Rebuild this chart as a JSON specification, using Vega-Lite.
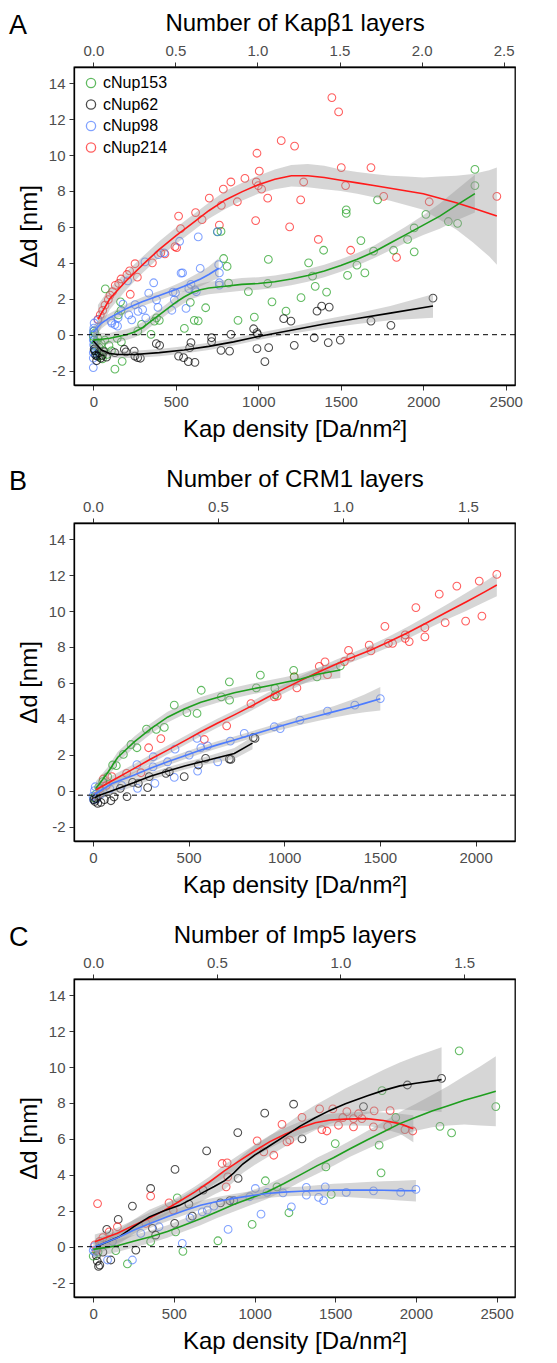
{
"$schema":"https://vega.github.io/schema/vega-lite/v6.json",
"autosize":{"type":"pad"},
"padding":{"left":8,"top":10,"right":5,"bottom":5},
"background":"white",
"config":{
 "font":"Liberation Sans",
 "view":{"stroke":"black","strokeWidth":1.3},
 "axis":{"grid":false,"domainColor":"black","domainWidth":1.3,"tickColor":"#333333","tickSize":5,"tickWidth":1,"labelColor":"#4D4D4D","labelFontSize":15,"labelFont":"Liberation Sans","labelPadding":4,"labelOverlap":false,"titleFontSize":24,"titleFontWeight":"normal","titleFont":"Liberation Sans","titleColor":"black"},
 "axisX":{"titlePadding":8},
 "axisY":{"titlePadding":7},
 "title":{"fontSize":27,"fontWeight":"normal","font":"Liberation Sans","anchor":"start","frame":"group","color":"black"},
 "legend":{"labelFontSize":16,"labelFont":"Liberation Sans","labelColor":"black","symbolSize":85,"symbolStrokeWidth":1.3,"rowPadding":5.5,"padding":0}
},
"datasets":{
"ptsA":[
{"s":"cNup214","x":28,"y":0.85},{"s":"cNup214","x":42,"y":1.1},{"s":"cNup214","x":57,"y":1.35},{"s":"cNup214","x":71,"y":1.65},{"s":"cNup214","x":91,"y":1.95},{"s":"cNup214","x":101,"y":2.2},{"s":"cNup214","x":117,"y":2.4},{"s":"cNup214","x":133,"y":2.75},{"s":"cNup214","x":154,"y":2.85},{"s":"cNup214","x":168,"y":3.1},{"s":"cNup214","x":204,"y":3.35},{"s":"cNup214","x":220,"y":3.55},{"s":"cNup214","x":224,"y":2.25},{"s":"cNup214","x":253,"y":3.95},{"s":"cNup214","x":267,"y":3.2},{"s":"cNup214","x":358,"y":4.0},{"s":"cNup214","x":409,"y":4.55},{"s":"cNup214","x":434,"y":4.5},{"s":"cNup214","x":495,"y":4.9},{"s":"cNup214","x":505,"y":4.85},{"s":"cNup214","x":517,"y":6.6},{"s":"cNup214","x":529,"y":5.9},{"s":"cNup214","x":620,"y":6.8},{"s":"cNup214","x":659,"y":6.4},{"s":"cNup214","x":703,"y":7.6},{"s":"cNup214","x":764,"y":6.1},{"s":"cNup214","x":776,"y":7.2},{"s":"cNup214","x":788,"y":8.1},{"s":"cNup214","x":834,"y":8.5},{"s":"cNup214","x":873,"y":7.4},{"s":"cNup214","x":919,"y":8.7},{"s":"cNup214","x":984,"y":6.35},{"s":"cNup214","x":988,"y":8.5},{"s":"cNup214","x":992,"y":10.1},{"s":"cNup214","x":1000,"y":8.3},{"s":"cNup214","x":1006,"y":9.1},{"s":"cNup214","x":1020,"y":8.1},{"s":"cNup214","x":1057,"y":7.6},{"s":"cNup214","x":1139,"y":10.8},{"s":"cNup214","x":1190,"y":6.0},{"s":"cNup214","x":1220,"y":10.5},{"s":"cNup214","x":1257,"y":7.5},{"s":"cNup214","x":1275,"y":8.5},{"s":"cNup214","x":1364,"y":5.3},{"s":"cNup214","x":1446,"y":13.2},{"s":"cNup214","x":1487,"y":12.4},{"s":"cNup214","x":1503,"y":9.3},{"s":"cNup214","x":1529,"y":8.3},{"s":"cNup214","x":1560,"y":4.7},{"s":"cNup214","x":1683,"y":9.3},{"s":"cNup214","x":1760,"y":7.7},{"s":"cNup214","x":1838,"y":4.3},{"s":"cNup214","x":2036,"y":7.4},{"s":"cNup214","x":2446,"y":7.7},
{"s":"cNup153","x":0,"y":-0.1},{"s":"cNup153","x":3,"y":0.2},{"s":"cNup153","x":5,"y":-0.3},{"s":"cNup153","x":8,"y":-0.6},{"s":"cNup153","x":10,"y":0.1},{"s":"cNup153","x":14,"y":-0.9},{"s":"cNup153","x":18,"y":-0.4},{"s":"cNup153","x":22,"y":-1.1},{"s":"cNup153","x":28,"y":-0.2},{"s":"cNup153","x":35,"y":-0.7},{"s":"cNup153","x":40,"y":-1.2},{"s":"cNup153","x":48,"y":-0.5},{"s":"cNup153","x":55,"y":-1.35},{"s":"cNup153","x":62,"y":-0.9},{"s":"cNup153","x":70,"y":-0.3},{"s":"cNup153","x":73,"y":2.55},{"s":"cNup153","x":85,"y":-1.1},{"s":"cNup153","x":95,"y":-0.6},{"s":"cNup153","x":110,"y":-0.9},{"s":"cNup153","x":131,"y":-1.92},{"s":"cNup153","x":145,"y":-0.2},{"s":"cNup153","x":152,"y":1.1},{"s":"cNup153","x":165,"y":1.83},{"s":"cNup153","x":168,"y":1.35},{"s":"cNup153","x":170,"y":-0.4},{"s":"cNup153","x":175,"y":-1.48},{"s":"cNup153","x":270,"y":0.2},{"s":"cNup153","x":293,"y":0.58},{"s":"cNup153","x":350,"y":0.02},{"s":"cNup153","x":370,"y":0.76},{"s":"cNup153","x":383,"y":0.94},{"s":"cNup153","x":400,"y":0.8},{"s":"cNup153","x":552,"y":0.35},{"s":"cNup153","x":588,"y":1.8},{"s":"cNup153","x":612,"y":0.8},{"s":"cNup153","x":636,"y":0.77},{"s":"cNup153","x":681,"y":1.5},{"s":"cNup153","x":752,"y":5.72},{"s":"cNup153","x":774,"y":5.75},{"s":"cNup153","x":790,"y":4.24},{"s":"cNup153","x":811,"y":3.8},{"s":"cNup153","x":820,"y":2.87},{"s":"cNup153","x":877,"y":0.8},{"s":"cNup153","x":940,"y":2.4},{"s":"cNup153","x":976,"y":0.98},{"s":"cNup153","x":1057,"y":2.85},{"s":"cNup153","x":1061,"y":4.19},{"s":"cNup153","x":1083,"y":1.83},{"s":"cNup153","x":1168,"y":1.31},{"s":"cNup153","x":1259,"y":2.06},{"s":"cNup153","x":1305,"y":4.0},{"s":"cNup153","x":1329,"y":3.26},{"s":"cNup153","x":1345,"y":2.69},{"s":"cNup153","x":1396,"y":4.7},{"s":"cNup153","x":1414,"y":2.37},{"s":"cNup153","x":1533,"y":6.95},{"s":"cNup153","x":1533,"y":6.75},{"s":"cNup153","x":1541,"y":3.3},{"s":"cNup153","x":1598,"y":3.87},{"s":"cNup153","x":1622,"y":5.24},{"s":"cNup153","x":1646,"y":3.44},{"s":"cNup153","x":1699,"y":4.65},{"s":"cNup153","x":1723,"y":7.5},{"s":"cNup153","x":1820,"y":4.7},{"s":"cNup153","x":1905,"y":5.3},{"s":"cNup153","x":1945,"y":5.94},{"s":"cNup153","x":1945,"y":4.61},{"s":"cNup153","x":2016,"y":6.7},{"s":"cNup153","x":2152,"y":6.3},{"s":"cNup153","x":2208,"y":6.2},{"s":"cNup153","x":2313,"y":9.2},{"s":"cNup153","x":2313,"y":8.3},
{"s":"cNup98","x":0,"y":-1.83},{"s":"cNup98","x":0,"y":-1.3},{"s":"cNup98","x":0,"y":-1.0},{"s":"cNup98","x":2,"y":-0.56},{"s":"cNup98","x":0,"y":-0.3},{"s":"cNup98","x":0,"y":0.0},{"s":"cNup98","x":2,"y":0.2},{"s":"cNup98","x":3,"y":0.37},{"s":"cNup98","x":5,"y":0.65},{"s":"cNup98","x":8,"y":-0.8},{"s":"cNup98","x":10,"y":-1.1},{"s":"cNup98","x":28,"y":0.83},{"s":"cNup98","x":107,"y":0.76},{"s":"cNup98","x":112,"y":0.65},{"s":"cNup98","x":131,"y":0.56},{"s":"cNup98","x":147,"y":0.48},{"s":"cNup98","x":150,"y":0.93},{"s":"cNup98","x":180,"y":1.7},{"s":"cNup98","x":208,"y":3.0},{"s":"cNup98","x":215,"y":1.1},{"s":"cNup98","x":233,"y":0.83},{"s":"cNup98","x":253,"y":1.67},{"s":"cNup98","x":271,"y":1.3},{"s":"cNup98","x":299,"y":1.39},{"s":"cNup98","x":313,"y":4.05},{"s":"cNup98","x":318,"y":0.93},{"s":"cNup98","x":336,"y":2.31},{"s":"cNup98","x":366,"y":2.89},{"s":"cNup98","x":383,"y":1.94},{"s":"cNup98","x":392,"y":1.52},{"s":"cNup98","x":394,"y":4.46},{"s":"cNup98","x":429,"y":4.55},{"s":"cNup98","x":476,"y":1.36},{"s":"cNup98","x":483,"y":2.37},{"s":"cNup98","x":491,"y":1.94},{"s":"cNup98","x":498,"y":2.33},{"s":"cNup98","x":523,"y":5.2},{"s":"cNup98","x":532,"y":3.43},{"s":"cNup98","x":541,"y":3.44},{"s":"cNup98","x":562,"y":1.46},{"s":"cNup98","x":579,"y":2.57},{"s":"cNup98","x":592,"y":2.8},{"s":"cNup98","x":616,"y":2.5},{"s":"cNup98","x":624,"y":2.39},{"s":"cNup98","x":636,"y":5.44},{"s":"cNup98","x":648,"y":3.69},{"s":"cNup98","x":753,"y":5.74},{"s":"cNup98","x":760,"y":3.9},{"s":"cNup98","x":764,"y":3.44},{"s":"cNup98","x":764,"y":2.89},{"s":"cNup98","x":764,"y":2.76},
{"s":"cNup62","x":5,"y":-0.8},{"s":"cNup62","x":8,"y":-0.9},{"s":"cNup62","x":15,"y":-1.15},{"s":"cNup62","x":20,"y":-1.45},{"s":"cNup62","x":25,"y":-1.2},{"s":"cNup62","x":35,"y":-1.0},{"s":"cNup62","x":45,"y":-1.3},{"s":"cNup62","x":55,"y":-1.15},{"s":"cNup62","x":65,"y":-0.95},{"s":"cNup62","x":80,"y":-1.25},{"s":"cNup62","x":130,"y":-1.0},{"s":"cNup62","x":188,"y":-0.81},{"s":"cNup62","x":198,"y":-0.96},{"s":"cNup62","x":248,"y":-0.91},{"s":"cNup62","x":252,"y":-1.19},{"s":"cNup62","x":269,"y":-1.28},{"s":"cNup62","x":285,"y":-1.31},{"s":"cNup62","x":382,"y":-0.5},{"s":"cNup62","x":402,"y":-0.59},{"s":"cNup62","x":517,"y":-1.19},{"s":"cNup62","x":547,"y":-1.28},{"s":"cNup62","x":576,"y":-1.5},{"s":"cNup62","x":584,"y":-0.72},{"s":"cNup62","x":592,"y":-0.44},{"s":"cNup62","x":616,"y":-1.54},{"s":"cNup62","x":717,"y":-0.17},{"s":"cNup62","x":717,"y":-0.39},{"s":"cNup62","x":774,"y":-0.87},{"s":"cNup62","x":826,"y":-0.91},{"s":"cNup62","x":834,"y":0.02},{"s":"cNup62","x":972,"y":0.33},{"s":"cNup62","x":992,"y":0.11},{"s":"cNup62","x":996,"y":0.02},{"s":"cNup62","x":992,"y":-0.78},{"s":"cNup62","x":1040,"y":-1.5},{"s":"cNup62","x":1063,"y":-0.72},{"s":"cNup62","x":1154,"y":0.89},{"s":"cNup62","x":1198,"y":0.76},{"s":"cNup62","x":1218,"y":-0.59},{"s":"cNup62","x":1339,"y":-0.17},{"s":"cNup62","x":1356,"y":1.31},{"s":"cNup62","x":1384,"y":1.59},{"s":"cNup62","x":1430,"y":1.54},{"s":"cNup62","x":1424,"y":-0.44},{"s":"cNup62","x":1497,"y":-0.3},{"s":"cNup62","x":1683,"y":0.76},{"s":"cNup62","x":1804,"y":0.52},{"s":"cNup62","x":2059,"y":2.04}
],
"fitA":[
{"s":"cNup214","x":28,"y":0.85,"lo":0.05,"hi":1.65},{"s":"cNup214","x":100,"y":2.0,"lo":1.4,"hi":2.6},{"s":"cNup214","x":200,"y":3.0,"lo":2.5,"hi":3.5},{"s":"cNup214","x":300,"y":3.9,"lo":3.45,"hi":4.35},{"s":"cNup214","x":400,"y":4.75,"lo":4.3,"hi":5.2},{"s":"cNup214","x":500,"y":5.5,"lo":5.05,"hi":5.95},{"s":"cNup214","x":600,"y":6.2,"lo":5.75,"hi":6.65},{"s":"cNup214","x":700,"y":6.9,"lo":6.45,"hi":7.35},{"s":"cNup214","x":800,"y":7.5,"lo":7.0,"hi":8.0},{"s":"cNup214","x":900,"y":7.95,"lo":7.45,"hi":8.45},{"s":"cNup214","x":1000,"y":8.35,"lo":7.85,"hi":8.85},{"s":"cNup214","x":1100,"y":8.65,"lo":8.1,"hi":9.2},{"s":"cNup214","x":1200,"y":8.85,"lo":8.25,"hi":9.45},{"s":"cNup214","x":1300,"y":8.85,"lo":8.2,"hi":9.5},{"s":"cNup214","x":1400,"y":8.75,"lo":8.1,"hi":9.4},{"s":"cNup214","x":1500,"y":8.6,"lo":8.0,"hi":9.2},{"s":"cNup214","x":1600,"y":8.45,"lo":7.85,"hi":9.05},{"s":"cNup214","x":1700,"y":8.3,"lo":7.65,"hi":8.95},{"s":"cNup214","x":1800,"y":8.15,"lo":7.45,"hi":8.85},{"s":"cNup214","x":1900,"y":8.0,"lo":7.2,"hi":8.8},{"s":"cNup214","x":2000,"y":7.85,"lo":6.95,"hi":8.75},{"s":"cNup214","x":2100,"y":7.6,"lo":6.4,"hi":8.8},{"s":"cNup214","x":2200,"y":7.35,"lo":5.85,"hi":8.85},{"s":"cNup214","x":2300,"y":7.05,"lo":5.15,"hi":8.95},{"s":"cNup214","x":2400,"y":6.75,"lo":4.35,"hi":9.15},{"s":"cNup214","x":2446,"y":6.6,"lo":3.9,"hi":9.3},
{"s":"cNup153","x":0,"y":-0.3,"lo":-0.8,"hi":0.2},{"s":"cNup153","x":50,"y":-0.25,"lo":-0.6,"hi":0.1},{"s":"cNup153","x":100,"y":-0.2,"lo":-0.5,"hi":0.1},{"s":"cNup153","x":150,"y":-0.1,"lo":-0.4,"hi":0.2},{"s":"cNup153","x":200,"y":0.0,"lo":-0.3,"hi":0.3},{"s":"cNup153","x":250,"y":0.15,"lo":-0.15,"hi":0.45},{"s":"cNup153","x":300,"y":0.4,"lo":0.1,"hi":0.7},{"s":"cNup153","x":350,"y":0.75,"lo":0.45,"hi":1.05},{"s":"cNup153","x":400,"y":1.1,"lo":0.8,"hi":1.4},{"s":"cNup153","x":450,"y":1.45,"lo":1.15,"hi":1.75},{"s":"cNup153","x":500,"y":1.8,"lo":1.45,"hi":2.15},{"s":"cNup153","x":550,"y":2.1,"lo":1.75,"hi":2.45},{"s":"cNup153","x":600,"y":2.35,"lo":2.0,"hi":2.7},{"s":"cNup153","x":650,"y":2.5,"lo":2.15,"hi":2.85},{"s":"cNup153","x":700,"y":2.6,"lo":2.25,"hi":2.95},{"s":"cNup153","x":800,"y":2.7,"lo":2.35,"hi":3.05},{"s":"cNup153","x":900,"y":2.8,"lo":2.45,"hi":3.15},{"s":"cNup153","x":1000,"y":2.85,"lo":2.5,"hi":3.2},{"s":"cNup153","x":1100,"y":2.95,"lo":2.6,"hi":3.3},{"s":"cNup153","x":1200,"y":3.1,"lo":2.75,"hi":3.45},{"s":"cNup153","x":1300,"y":3.3,"lo":2.95,"hi":3.65},{"s":"cNup153","x":1400,"y":3.55,"lo":3.2,"hi":3.9},{"s":"cNup153","x":1500,"y":3.85,"lo":3.5,"hi":4.2},{"s":"cNup153","x":1600,"y":4.2,"lo":3.85,"hi":4.55},{"s":"cNup153","x":1700,"y":4.6,"lo":4.25,"hi":4.95},{"s":"cNup153","x":1800,"y":5.1,"lo":4.7,"hi":5.5},{"s":"cNup153","x":1900,"y":5.6,"lo":5.15,"hi":6.05},{"s":"cNup153","x":2000,"y":6.1,"lo":5.55,"hi":6.65},{"s":"cNup153","x":2100,"y":6.6,"lo":5.9,"hi":7.3},{"s":"cNup153","x":2200,"y":7.2,"lo":6.35,"hi":8.05},{"s":"cNup153","x":2313,"y":7.85,"lo":6.8,"hi":8.9},
{"s":"cNup98","x":0,"y":0.15,"lo":-0.2,"hi":0.5},{"s":"cNup98","x":50,"y":0.65,"lo":0.35,"hi":0.95},{"s":"cNup98","x":100,"y":0.95,"lo":0.7,"hi":1.2},{"s":"cNup98","x":150,"y":1.2,"lo":0.95,"hi":1.45},{"s":"cNup98","x":200,"y":1.45,"lo":1.2,"hi":1.7},{"s":"cNup98","x":250,"y":1.65,"lo":1.4,"hi":1.9},{"s":"cNup98","x":300,"y":1.85,"lo":1.6,"hi":2.1},{"s":"cNup98","x":350,"y":2.02,"lo":1.77,"hi":2.27},{"s":"cNup98","x":400,"y":2.18,"lo":1.93,"hi":2.43},{"s":"cNup98","x":450,"y":2.35,"lo":2.1,"hi":2.6},{"s":"cNup98","x":500,"y":2.52,"lo":2.25,"hi":2.79},{"s":"cNup98","x":550,"y":2.7,"lo":2.4,"hi":3.0},{"s":"cNup98","x":600,"y":2.9,"lo":2.55,"hi":3.25},{"s":"cNup98","x":650,"y":3.1,"lo":2.7,"hi":3.5},{"s":"cNup98","x":700,"y":3.35,"lo":2.9,"hi":3.8},{"s":"cNup98","x":760,"y":3.7,"lo":3.15,"hi":4.25},
{"s":"cNup62","x":0,"y":-0.35,"lo":-0.65,"hi":-0.05},{"s":"cNup62","x":25,"y":-0.6,"lo":-0.85,"hi":-0.35},{"s":"cNup62","x":50,"y":-0.85,"lo":-1.1,"hi":-0.6},{"s":"cNup62","x":100,"y":-1.05,"lo":-1.25,"hi":-0.85},{"s":"cNup62","x":150,"y":-1.1,"lo":-1.3,"hi":-0.9},{"s":"cNup62","x":250,"y":-1.1,"lo":-1.3,"hi":-0.9},{"s":"cNup62","x":400,"y":-1.0,"lo":-1.2,"hi":-0.8},{"s":"cNup62","x":550,"y":-0.85,"lo":-1.05,"hi":-0.65},{"s":"cNup62","x":700,"y":-0.65,"lo":-0.85,"hi":-0.45},{"s":"cNup62","x":850,"y":-0.4,"lo":-0.6,"hi":-0.2},{"s":"cNup62","x":1000,"y":-0.1,"lo":-0.3,"hi":0.1},{"s":"cNup62","x":1200,"y":0.25,"lo":0.05,"hi":0.45},{"s":"cNup62","x":1400,"y":0.6,"lo":0.35,"hi":0.85},{"s":"cNup62","x":1600,"y":0.9,"lo":0.6,"hi":1.2},{"s":"cNup62","x":1800,"y":1.2,"lo":0.8,"hi":1.6},{"s":"cNup62","x":2059,"y":1.6,"lo":0.95,"hi":2.25}
],
"ptsB":[
{"s":"cNup214","x":20,"y":-0.3},{"s":"cNup214","x":35,"y":0.1},{"s":"cNup214","x":54,"y":0.65},{"s":"cNup214","x":70,"y":0.3},{"s":"cNup214","x":99,"y":0.78},{"s":"cNup214","x":176,"y":0.96},{"s":"cNup214","x":251,"y":1.0},{"s":"cNup214","x":291,"y":2.39},{"s":"cNup214","x":355,"y":2.9},{"s":"cNup214","x":582,"y":2.85},{"s":"cNup214","x":699,"y":3.61},{"s":"cNup214","x":826,"y":4.85},{"s":"cNup214","x":948,"y":5.22},{"s":"cNup214","x":963,"y":5.26},{"s":"cNup214","x":1052,"y":6.33},{"s":"cNup214","x":1066,"y":5.72},{"s":"cNup214","x":1183,"y":6.92},{"s":"cNup214","x":1213,"y":7.17},{"s":"cNup214","x":1226,"y":6.46},{"s":"cNup214","x":1314,"y":7.19},{"s":"cNup214","x":1336,"y":7.81},{"s":"cNup214","x":1348,"y":7.43},{"s":"cNup214","x":1444,"y":8.1},{"s":"cNup214","x":1453,"y":7.78},{"s":"cNup214","x":1526,"y":9.15},{"s":"cNup214","x":1544,"y":8.2},{"s":"cNup214","x":1566,"y":8.2},{"s":"cNup214","x":1632,"y":8.67},{"s":"cNup214","x":1632,"y":8.48},{"s":"cNup214","x":1653,"y":8.3},{"s":"cNup214","x":1688,"y":10.19},{"s":"cNup214","x":1735,"y":9.07},{"s":"cNup214","x":1735,"y":8.56},{"s":"cNup214","x":1810,"y":10.94},{"s":"cNup214","x":1841,"y":9.35},{"s":"cNup214","x":1902,"y":11.39},{"s":"cNup214","x":1948,"y":9.44},{"s":"cNup214","x":2019,"y":11.67},{"s":"cNup214","x":2033,"y":9.72},{"s":"cNup214","x":2111,"y":12.04},
{"s":"cNup153","x":5,"y":-0.4},{"s":"cNup153","x":15,"y":-0.2},{"s":"cNup153","x":30,"y":0.2},{"s":"cNup153","x":51,"y":0.5},{"s":"cNup153","x":77,"y":0.78},{"s":"cNup153","x":103,"y":1.43},{"s":"cNup153","x":122,"y":1.39},{"s":"cNup153","x":159,"y":2.02},{"s":"cNup153","x":199,"y":2.57},{"s":"cNup153","x":230,"y":2.39},{"s":"cNup153","x":280,"y":3.43},{"s":"cNup153","x":331,"y":3.41},{"s":"cNup153","x":373,"y":3.52},{"s":"cNup153","x":425,"y":4.76},{"s":"cNup153","x":491,"y":4.35},{"s":"cNup153","x":544,"y":4.3},{"s":"cNup153","x":566,"y":5.59},{"s":"cNup153","x":671,"y":5.22},{"s":"cNup153","x":713,"y":6.06},{"s":"cNup153","x":714,"y":5.04},{"s":"cNup153","x":854,"y":5.72},{"s":"cNup153","x":875,"y":6.43},{"s":"cNup153","x":951,"y":5.69},{"s":"cNup153","x":953,"y":5.35},{"s":"cNup153","x":1049,"y":6.7},{"s":"cNup153","x":1052,"y":6.33},{"s":"cNup153","x":1171,"y":6.33},{"s":"cNup153","x":1293,"y":6.95},
{"s":"cNup98","x":0,"y":-0.3},{"s":"cNup98","x":3,"y":-0.5},{"s":"cNup98","x":8,"y":0.0},{"s":"cNup98","x":12,"y":0.22},{"s":"cNup98","x":20,"y":-0.45},{"s":"cNup98","x":40,"y":-0.2},{"s":"cNup98","x":89,"y":0.1},{"s":"cNup98","x":150,"y":0.3},{"s":"cNup98","x":230,"y":1.45},{"s":"cNup98","x":233,"y":0.13},{"s":"cNup98","x":314,"y":1.33},{"s":"cNup98","x":315,"y":1.89},{"s":"cNup98","x":324,"y":0.41},{"s":"cNup98","x":390,"y":1.61},{"s":"cNup98","x":425,"y":0.74},{"s":"cNup98","x":429,"y":2.31},{"s":"cNup98","x":503,"y":1.98},{"s":"cNup98","x":544,"y":2.91},{"s":"cNup98","x":547,"y":1.09},{"s":"cNup98","x":564,"y":2.39},{"s":"cNup98","x":599,"y":2.5},{"s":"cNup98","x":652,"y":1.61},{"s":"cNup98","x":718,"y":2.76},{"s":"cNup98","x":791,"y":3.19},{"s":"cNup98","x":948,"y":3.56},{"s":"cNup98","x":979,"y":3.46},{"s":"cNup98","x":1082,"y":3.93},{"s":"cNup98","x":1226,"y":4.43},{"s":"cNup98","x":1369,"y":4.76},{"s":"cNup98","x":1502,"y":5.13},
{"s":"cNup62","x":5,"y":-0.5},{"s":"cNup62","x":10,"y":-0.6},{"s":"cNup62","x":16,"y":-0.43},{"s":"cNup62","x":25,"y":-0.7},{"s":"cNup62","x":42,"y":-0.65},{"s":"cNup62","x":60,"y":-0.5},{"s":"cNup62","x":94,"y":-0.56},{"s":"cNup62","x":110,"y":-0.35},{"s":"cNup62","x":143,"y":0.13},{"s":"cNup62","x":178,"y":-0.33},{"s":"cNup62","x":207,"y":0.46},{"s":"cNup62","x":237,"y":0.41},{"s":"cNup62","x":286,"y":0.17},{"s":"cNup62","x":294,"y":0.78},{"s":"cNup62","x":382,"y":0.96},{"s":"cNup62","x":399,"y":1.06},{"s":"cNup62","x":477,"y":0.78},{"s":"cNup62","x":551,"y":1.43},{"s":"cNup62","x":589,"y":1.8},{"s":"cNup62","x":713,"y":1.76},{"s":"cNup62","x":721,"y":1.74},{"s":"cNup62","x":838,"y":2.96},{"s":"cNup62","x":847,"y":2.91}
],
"fitB":[
{"s":"cNup214","x":16,"y":0.05,"lo":-0.3,"hi":0.4},{"s":"cNup214","x":100,"y":0.55,"lo":0.25,"hi":0.85},{"s":"cNup214","x":216,"y":1.24,"lo":0.99,"hi":1.49},{"s":"cNup214","x":300,"y":1.75,"lo":1.5,"hi":2.0},{"s":"cNup214","x":390,"y":2.26,"lo":2.01,"hi":2.51},{"s":"cNup214","x":500,"y":2.9,"lo":2.65,"hi":3.15},{"s":"cNup214","x":564,"y":3.28,"lo":3.03,"hi":3.53},{"s":"cNup214","x":650,"y":3.75,"lo":3.5,"hi":4.0},{"s":"cNup214","x":739,"y":4.22,"lo":3.97,"hi":4.47},{"s":"cNup214","x":830,"y":4.72,"lo":4.47,"hi":4.97},{"s":"cNup214","x":913,"y":5.2,"lo":4.95,"hi":5.45},{"s":"cNup214","x":1000,"y":5.68,"lo":5.43,"hi":5.93},{"s":"cNup214","x":1087,"y":6.14,"lo":5.89,"hi":6.39},{"s":"cNup214","x":1174,"y":6.58,"lo":6.33,"hi":6.83},{"s":"cNup214","x":1261,"y":7.0,"lo":6.75,"hi":7.25},{"s":"cNup214","x":1348,"y":7.38,"lo":7.13,"hi":7.63},{"s":"cNup214","x":1450,"y":7.82,"lo":7.55,"hi":8.09},{"s":"cNup214","x":1550,"y":8.3,"lo":8.0,"hi":8.6},{"s":"cNup214","x":1650,"y":8.82,"lo":8.49,"hi":9.15},{"s":"cNup214","x":1750,"y":9.38,"lo":9.01,"hi":9.75},{"s":"cNup214","x":1850,"y":9.95,"lo":9.53,"hi":10.37},{"s":"cNup214","x":1950,"y":10.5,"lo":10.0,"hi":11.0},{"s":"cNup214","x":2050,"y":11.08,"lo":10.51,"hi":11.65},{"s":"cNup214","x":2111,"y":11.45,"lo":10.82,"hi":12.08},
{"s":"cNup153","x":16,"y":0.13,"lo":-0.27,"hi":0.53},{"s":"cNup153","x":77,"y":1.0,"lo":0.7,"hi":1.3},{"s":"cNup153","x":129,"y":1.85,"lo":1.55,"hi":2.15},{"s":"cNup153","x":216,"y":2.72,"lo":2.42,"hi":3.02},{"s":"cNup153","x":303,"y":3.45,"lo":3.15,"hi":3.75},{"s":"cNup153","x":390,"y":4.09,"lo":3.79,"hi":4.39},{"s":"cNup153","x":477,"y":4.55,"lo":4.25,"hi":4.85},{"s":"cNup153","x":564,"y":4.92,"lo":4.62,"hi":5.22},{"s":"cNup153","x":650,"y":5.19,"lo":4.89,"hi":5.49},{"s":"cNup153","x":739,"y":5.45,"lo":5.15,"hi":5.75},{"s":"cNup153","x":826,"y":5.65,"lo":5.35,"hi":5.95},{"s":"cNup153","x":913,"y":5.83,"lo":5.53,"hi":6.13},{"s":"cNup153","x":1000,"y":6.02,"lo":5.72,"hi":6.32},{"s":"cNup153","x":1087,"y":6.22,"lo":5.92,"hi":6.52},{"s":"cNup153","x":1174,"y":6.48,"lo":6.13,"hi":6.83},{"s":"cNup153","x":1293,"y":6.72,"lo":6.27,"hi":7.17},
{"s":"cNup98","x":10,"y":-0.2,"lo":-0.5,"hi":0.1},{"s":"cNup98","x":100,"y":0.4,"lo":0.2,"hi":0.6},{"s":"cNup98","x":216,"y":0.87,"lo":0.67,"hi":1.07},{"s":"cNup98","x":300,"y":1.25,"lo":1.05,"hi":1.45},{"s":"cNup98","x":390,"y":1.61,"lo":1.41,"hi":1.81},{"s":"cNup98","x":480,"y":1.95,"lo":1.75,"hi":2.15},{"s":"cNup98","x":564,"y":2.26,"lo":2.06,"hi":2.46},{"s":"cNup98","x":650,"y":2.55,"lo":2.35,"hi":2.75},{"s":"cNup98","x":739,"y":2.82,"lo":2.62,"hi":3.02},{"s":"cNup98","x":826,"y":3.1,"lo":2.9,"hi":3.3},{"s":"cNup98","x":913,"y":3.38,"lo":3.18,"hi":3.58},{"s":"cNup98","x":1000,"y":3.66,"lo":3.44,"hi":3.88},{"s":"cNup98","x":1087,"y":3.92,"lo":3.67,"hi":4.17},{"s":"cNup98","x":1174,"y":4.16,"lo":3.88,"hi":4.44},{"s":"cNup98","x":1261,"y":4.4,"lo":4.08,"hi":4.72},{"s":"cNup98","x":1350,"y":4.65,"lo":4.25,"hi":5.05},{"s":"cNup98","x":1420,"y":4.86,"lo":4.36,"hi":5.36},{"s":"cNup98","x":1502,"y":5.12,"lo":4.47,"hi":5.77},
{"s":"cNup62","x":10,"y":-0.4,"lo":-0.65,"hi":-0.15},{"s":"cNup62","x":24,"y":-0.3,"lo":-0.5,"hi":-0.1},{"s":"cNup62","x":100,"y":0.0,"lo":-0.2,"hi":0.2},{"s":"cNup62","x":216,"y":0.45,"lo":0.25,"hi":0.65},{"s":"cNup62","x":300,"y":0.8,"lo":0.6,"hi":1.0},{"s":"cNup62","x":390,"y":1.1,"lo":0.9,"hi":1.3},{"s":"cNup62","x":480,"y":1.38,"lo":1.18,"hi":1.58},{"s":"cNup62","x":564,"y":1.6,"lo":1.4,"hi":1.8},{"s":"cNup62","x":650,"y":1.83,"lo":1.58,"hi":2.08},{"s":"cNup62","x":739,"y":2.07,"lo":1.77,"hi":2.37},{"s":"cNup62","x":834,"y":2.65,"lo":2.3,"hi":3.0}
],
"ptsC":[
{"s":"cNup62","x":20,"y":-0.5},{"s":"cNup62","x":25,"y":-0.8},{"s":"cNup62","x":33,"y":-1.1},{"s":"cNup62","x":41,"y":-1.02},{"s":"cNup62","x":60,"y":-0.3},{"s":"cNup62","x":84,"y":0.96},{"s":"cNup62","x":109,"y":-0.74},{"s":"cNup62","x":155,"y":1.52},{"s":"cNup62","x":243,"y":2.26},{"s":"cNup62","x":264,"y":-0.19},{"s":"cNup62","x":356,"y":3.24},{"s":"cNup62","x":367,"y":1.02},{"s":"cNup62","x":387,"y":0.65},{"s":"cNup62","x":505,"y":1.3},{"s":"cNup62","x":507,"y":4.3},{"s":"cNup62","x":593,"y":2.37},{"s":"cNup62","x":614,"y":1.7},{"s":"cNup62","x":682,"y":3.15},{"s":"cNup62","x":703,"y":5.33},{"s":"cNup62","x":789,"y":2.44},{"s":"cNup62","x":847,"y":2.56},{"s":"cNup62","x":871,"y":2.56},{"s":"cNup62","x":896,"y":6.35},{"s":"cNup62","x":898,"y":3.8},{"s":"cNup62","x":1063,"y":7.43},{"s":"cNup62","x":1242,"y":7.93},{"s":"cNup62","x":1294,"y":6.0},{"s":"cNup62","x":1675,"y":7.8},{"s":"cNup62","x":1947,"y":9.0},{"s":"cNup62","x":2159,"y":9.37},
{"s":"cNup214","x":10,"y":0.1},{"s":"cNup214","x":20,"y":-0.2},{"s":"cNup214","x":27,"y":2.4},{"s":"cNup214","x":40,"y":0.3},{"s":"cNup214","x":60,"y":0.5},{"s":"cNup214","x":99,"y":0.83},{"s":"cNup214","x":150,"y":1.11},{"s":"cNup214","x":326,"y":1.3},{"s":"cNup214","x":356,"y":2.81},{"s":"cNup214","x":470,"y":2.44},{"s":"cNup214","x":496,"y":2.04},{"s":"cNup214","x":799,"y":4.63},{"s":"cNup214","x":824,"y":3.33},{"s":"cNup214","x":830,"y":4.67},{"s":"cNup214","x":834,"y":3.89},{"s":"cNup214","x":1016,"y":5.89},{"s":"cNup214","x":1057,"y":5.28},{"s":"cNup214","x":1119,"y":5.09},{"s":"cNup214","x":1170,"y":6.81},{"s":"cNup214","x":1201,"y":5.83},{"s":"cNup214","x":1218,"y":5.93},{"s":"cNup214","x":1294,"y":7.2},{"s":"cNup214","x":1403,"y":7.67},{"s":"cNup214","x":1417,"y":6.52},{"s":"cNup214","x":1448,"y":6.44},{"s":"cNup214","x":1485,"y":7.67},{"s":"cNup214","x":1520,"y":6.76},{"s":"cNup214","x":1547,"y":7.19},{"s":"cNup214","x":1572,"y":7.52},{"s":"cNup214","x":1613,"y":7.13},{"s":"cNup214","x":1613,"y":6.67},{"s":"cNup214","x":1644,"y":7.4},{"s":"cNup214","x":1665,"y":7.13},{"s":"cNup214","x":1737,"y":6.67},{"s":"cNup214","x":1741,"y":7.56},{"s":"cNup214","x":1825,"y":6.7},{"s":"cNup214","x":1840,"y":7.57},{"s":"cNup214","x":1932,"y":6.52},{"s":"cNup214","x":1980,"y":6.44},
{"s":"cNup153","x":0,"y":-0.52},{"s":"cNup153","x":30,"y":-0.3},{"s":"cNup153","x":140,"y":-0.22},{"s":"cNup153","x":212,"y":-0.96},{"s":"cNup153","x":356,"y":0.28},{"s":"cNup153","x":511,"y":0.83},{"s":"cNup153","x":521,"y":2.72},{"s":"cNup153","x":556,"y":-0.26},{"s":"cNup153","x":773,"y":0.33},{"s":"cNup153","x":985,"y":1.24},{"s":"cNup153","x":1067,"y":3.67},{"s":"cNup153","x":1139,"y":3.33},{"s":"cNup153","x":1213,"y":1.89},{"s":"cNup153","x":1442,"y":4.44},{"s":"cNup153","x":1475,"y":2.91},{"s":"cNup153","x":1500,"y":5.74},{"s":"cNup153","x":1772,"y":5.65},{"s":"cNup153","x":1784,"y":4.11},{"s":"cNup153","x":1790,"y":8.69},{"s":"cNup153","x":1875,"y":7.19},{"s":"cNup153","x":2149,"y":6.7},{"s":"cNup153","x":2221,"y":6.33},{"s":"cNup153","x":2268,"y":10.9},{"s":"cNup153","x":2495,"y":7.8},
{"s":"cNup98","x":0,"y":-0.2},{"s":"cNup98","x":5,"y":0.0},{"s":"cNup98","x":10,"y":-0.3},{"s":"cNup98","x":89,"y":-0.74},{"s":"cNup98","x":120,"y":0.3},{"s":"cNup98","x":243,"y":-0.74},{"s":"cNup98","x":295,"y":0.74},{"s":"cNup98","x":408,"y":1.11},{"s":"cNup98","x":552,"y":0.19},{"s":"cNup98","x":600,"y":1.6},{"s":"cNup98","x":676,"y":1.94},{"s":"cNup98","x":707,"y":2.04},{"s":"cNup98","x":748,"y":2.26},{"s":"cNup98","x":836,"y":0.96},{"s":"cNup98","x":871,"y":2.56},{"s":"cNup98","x":970,"y":2.78},{"s":"cNup98","x":1005,"y":3.24},{"s":"cNup98","x":1040,"y":1.81},{"s":"cNup98","x":1077,"y":3.02},{"s":"cNup98","x":1176,"y":3.0},{"s":"cNup98","x":1228,"y":2.22},{"s":"cNup98","x":1321,"y":3.3},{"s":"cNup98","x":1321,"y":2.87},{"s":"cNup98","x":1397,"y":2.74},{"s":"cNup98","x":1428,"y":2.56},{"s":"cNup98","x":1438,"y":3.33},{"s":"cNup98","x":1568,"y":3.02},{"s":"cNup98","x":1737,"y":3.11},{"s":"cNup98","x":1906,"y":3.02},{"s":"cNup98","x":2000,"y":3.19}
],
"fitC":[
{"s":"cNup214","x":10,"y":0.28,"lo":-0.12,"hi":0.68},{"s":"cNup214","x":150,"y":0.75,"lo":0.45,"hi":1.05},{"s":"cNup214","x":254,"y":1.2,"lo":0.9,"hi":1.5},{"s":"cNup214","x":350,"y":1.6,"lo":1.3,"hi":1.9},{"s":"cNup214","x":441,"y":2.02,"lo":1.72,"hi":2.32},{"s":"cNup214","x":530,"y":2.5,"lo":2.2,"hi":2.8},{"s":"cNup214","x":628,"y":3.04,"lo":2.74,"hi":3.34},{"s":"cNup214","x":720,"y":3.6,"lo":3.3,"hi":3.9},{"s":"cNup214","x":815,"y":4.23,"lo":3.88,"hi":4.58},{"s":"cNup214","x":910,"y":4.8,"lo":4.45,"hi":5.15},{"s":"cNup214","x":1002,"y":5.34,"lo":4.99,"hi":5.69},{"s":"cNup214","x":1095,"y":5.85,"lo":5.5,"hi":6.2},{"s":"cNup214","x":1189,"y":6.26,"lo":5.91,"hi":6.61},{"s":"cNup214","x":1280,"y":6.6,"lo":6.25,"hi":6.95},{"s":"cNup214","x":1376,"y":6.9,"lo":6.55,"hi":7.25},{"s":"cNup214","x":1470,"y":7.05,"lo":6.7,"hi":7.4},{"s":"cNup214","x":1563,"y":7.1,"lo":6.75,"hi":7.45},{"s":"cNup214","x":1695,"y":7.13,"lo":6.73,"hi":7.53},{"s":"cNup214","x":1798,"y":7.02,"lo":6.57,"hi":7.47},{"s":"cNup214","x":1900,"y":6.85,"lo":6.3,"hi":7.4},{"s":"cNup214","x":1984,"y":6.57,"lo":5.82,"hi":7.32},
{"s":"cNup62","x":16,"y":0.0,"lo":-0.45,"hi":0.45},{"s":"cNup62","x":161,"y":0.55,"lo":0.15,"hi":0.95},{"s":"cNup62","x":250,"y":1.1,"lo":0.7,"hi":1.5},{"s":"cNup62","x":348,"y":1.66,"lo":1.26,"hi":2.06},{"s":"cNup62","x":440,"y":2.0,"lo":1.6,"hi":2.4},{"s":"cNup62","x":535,"y":2.3,"lo":1.9,"hi":2.7},{"s":"cNup62","x":610,"y":2.65,"lo":2.2,"hi":3.1},{"s":"cNup62","x":684,"y":3.04,"lo":2.59,"hi":3.49},{"s":"cNup62","x":750,"y":3.35,"lo":2.9,"hi":3.8},{"s":"cNup62","x":815,"y":3.68,"lo":3.18,"hi":4.18},{"s":"cNup62","x":870,"y":4.1,"lo":3.6,"hi":4.6},{"s":"cNup62","x":927,"y":4.6,"lo":4.1,"hi":5.1},{"s":"cNup62","x":1000,"y":5.1,"lo":4.55,"hi":5.65},{"s":"cNup62","x":1077,"y":5.52,"lo":4.97,"hi":6.07},{"s":"cNup62","x":1189,"y":6.17,"lo":5.57,"hi":6.77},{"s":"cNup62","x":1280,"y":6.7,"lo":6.05,"hi":7.35},{"s":"cNup62","x":1376,"y":7.18,"lo":6.48,"hi":7.88},{"s":"cNup62","x":1470,"y":7.6,"lo":6.85,"hi":8.35},{"s":"cNup62","x":1563,"y":7.96,"lo":7.11,"hi":8.81},{"s":"cNup62","x":1700,"y":8.4,"lo":7.4,"hi":9.4},{"s":"cNup62","x":1800,"y":8.7,"lo":7.55,"hi":9.85},{"s":"cNup62","x":1900,"y":8.95,"lo":7.65,"hi":10.25},{"s":"cNup62","x":2000,"y":9.1,"lo":7.6,"hi":10.6},{"s":"cNup62","x":2159,"y":9.3,"lo":7.5,"hi":11.1},
{"s":"cNup153","x":0,"y":-0.15,"lo":-0.6,"hi":0.3},{"s":"cNup153","x":150,"y":0.05,"lo":-0.3,"hi":0.4},{"s":"cNup153","x":250,"y":0.3,"lo":-0.05,"hi":0.65},{"s":"cNup153","x":356,"y":0.55,"lo":0.2,"hi":0.9},{"s":"cNup153","x":460,"y":0.85,"lo":0.5,"hi":1.2},{"s":"cNup153","x":562,"y":1.2,"lo":0.85,"hi":1.55},{"s":"cNup153","x":665,"y":1.55,"lo":1.2,"hi":1.9},{"s":"cNup153","x":768,"y":1.95,"lo":1.6,"hi":2.3},{"s":"cNup153","x":870,"y":2.35,"lo":1.95,"hi":2.75},{"s":"cNup153","x":974,"y":2.7,"lo":2.3,"hi":3.1},{"s":"cNup153","x":1077,"y":3.05,"lo":2.65,"hi":3.45},{"s":"cNup153","x":1180,"y":3.5,"lo":3.1,"hi":3.9},{"s":"cNup153","x":1283,"y":4.0,"lo":3.6,"hi":4.4},{"s":"cNup153","x":1386,"y":4.5,"lo":4.05,"hi":4.95},{"s":"cNup153","x":1489,"y":4.95,"lo":4.5,"hi":5.4},{"s":"cNup153","x":1592,"y":5.45,"lo":5.0,"hi":5.9},{"s":"cNup153","x":1700,"y":5.95,"lo":5.45,"hi":6.45},{"s":"cNup153","x":1800,"y":6.4,"lo":5.85,"hi":6.95},{"s":"cNup153","x":1900,"y":6.85,"lo":6.2,"hi":7.5},{"s":"cNup153","x":2000,"y":7.2,"lo":6.45,"hi":7.95},{"s":"cNup153","x":2100,"y":7.55,"lo":6.65,"hi":8.45},{"s":"cNup153","x":2200,"y":7.85,"lo":6.75,"hi":8.95},{"s":"cNup153","x":2300,"y":8.15,"lo":6.8,"hi":9.5},{"s":"cNup153","x":2400,"y":8.4,"lo":6.75,"hi":10.05},{"s":"cNup153","x":2495,"y":8.65,"lo":6.7,"hi":10.6},
{"s":"cNup98","x":10,"y":0.0,"lo":-0.35,"hi":0.35},{"s":"cNup98","x":150,"y":0.5,"lo":0.2,"hi":0.8},{"s":"cNup98","x":253,"y":0.93,"lo":0.63,"hi":1.23},{"s":"cNup98","x":356,"y":1.3,"lo":1.05,"hi":1.55},{"s":"cNup98","x":459,"y":1.67,"lo":1.42,"hi":1.92},{"s":"cNup98","x":562,"y":2.0,"lo":1.75,"hi":2.25},{"s":"cNup98","x":665,"y":2.31,"lo":2.06,"hi":2.56},{"s":"cNup98","x":768,"y":2.52,"lo":2.27,"hi":2.77},{"s":"cNup98","x":871,"y":2.69,"lo":2.44,"hi":2.94},{"s":"cNup98","x":974,"y":2.84,"lo":2.59,"hi":3.09},{"s":"cNup98","x":1077,"y":2.96,"lo":2.71,"hi":3.21},{"s":"cNup98","x":1180,"y":3.04,"lo":2.79,"hi":3.29},{"s":"cNup98","x":1283,"y":3.09,"lo":2.84,"hi":3.34},{"s":"cNup98","x":1386,"y":3.12,"lo":2.82,"hi":3.42},{"s":"cNup98","x":1489,"y":3.15,"lo":2.8,"hi":3.5},{"s":"cNup98","x":1592,"y":3.15,"lo":2.75,"hi":3.55},{"s":"cNup98","x":1695,"y":3.15,"lo":2.7,"hi":3.6},{"s":"cNup98","x":1800,"y":3.14,"lo":2.64,"hi":3.64},{"s":"cNup98","x":1900,"y":3.12,"lo":2.57,"hi":3.67},{"s":"cNup98","x":2000,"y":3.11,"lo":2.51,"hi":3.71}
]
},
"vconcat":[
{
 "width":441,"height":318,
 "title":{"text":"A","dx":-65,"dy":33},
 "layer":[
  {"layer":[
   {"data":{"name":"ptsA"},"mark":{"type":"point","filled":false,"size":60,"strokeWidth":1.05},
    "encoding":{
     "x":{"field":"x","type":"quantitative","scale":{"domain":[-117,2556],"nice":false,"zero":false},"axis":{"title":"Kap density [Da/nm²]","values":[0,500,1000,1500,2000,2500],"format":"d"}},
     "y":{"field":"y","type":"quantitative","scale":{"domain":[-2.8,14.9],"nice":false,"zero":false},"axis":{"title":"Δd [nm]","values":[-2,0,2,4,6,8,10,12,14],"labelExpr":"replace(datum.label,'−','-')"}},
     "color":{"field":"s","type":"nominal","scale":{"domain":["cNup153","cNup62","cNup98","cNup214"],"range":["#1E9E1E","#000000","#4D7CFF","#FF1A1A"]},"legend":{"title":null,"orient":"none","legendX":9,"legendY":8}}}},
   {"data":{"name":"fitA"},"mark":{"type":"area","color":"#999999","opacity":0.4},
    "encoding":{
     "x":{"field":"x","type":"quantitative","scale":{"domain":[-117,2556],"nice":false,"zero":false},"axis":{"title":"Kap density [Da/nm²]","values":[0,500,1000,1500,2000,2500],"format":"d"}},
     "y":{"field":"lo","type":"quantitative","scale":{"domain":[-2.8,14.9],"nice":false,"zero":false},"axis":{"title":"Δd [nm]","values":[-2,0,2,4,6,8,10,12,14],"labelExpr":"replace(datum.label,'−','-')"}},
     "y2":{"field":"hi"},
     "detail":{"field":"s"}}},
   {"data":{"name":"fitA"},"mark":{"type":"line","strokeWidth":1.6},
    "encoding":{
     "x":{"field":"x","type":"quantitative","scale":{"domain":[-117,2556],"nice":false,"zero":false},"axis":{"title":"Kap density [Da/nm²]","values":[0,500,1000,1500,2000,2500],"format":"d"}},
     "y":{"field":"y","type":"quantitative","scale":{"domain":[-2.8,14.9],"nice":false,"zero":false},"axis":{"title":"Δd [nm]","values":[-2,0,2,4,6,8,10,12,14],"labelExpr":"replace(datum.label,'−','-')"}},
     "stroke":{"field":"s","type":"nominal","scale":{"domain":["cNup153","cNup62","cNup98","cNup214"],"range":["#1E9E1E","#000000","#4D7CFF","#FF1A1A"]},"legend":null}}},
   {"data":{"values":[{}]},"mark":{"type":"rule","strokeDash":[5,4],"color":"black","strokeWidth":1},
    "encoding":{"y":{"datum":0,"type":"quantitative","scale":{"domain":[-2.8,14.9],"nice":false,"zero":false},"axis":{"title":"Δd [nm]","values":[-2,0,2,4,6,8,10,12,14],"labelExpr":"replace(datum.label,'−','-')"}}}}
  ]},
  {"data":{"values":[{}]},"mark":{"type":"point","opacity":0},
   "encoding":{"x":{"datum":1,"type":"quantitative","scale":{"domain":[-0.1176,2.569],"nice":false,"zero":false},"axis":{"orient":"top","title":"Number of Kapβ1 layers","values":[0,0.5,1,1.5,2,2.5],"format":".1f"}}}}
 ],
 "resolve":{"scale":{"x":"independent"}}
},
{
 "width":441,"height":318,
 "title":{"text":"B","dx":-65,"dy":33},
 "layer":[
  {"layer":[
   {"data":{"name":"ptsB"},"mark":{"type":"point","filled":false,"size":60,"strokeWidth":1.05},
    "encoding":{
     "x":{"field":"x","type":"quantitative","scale":{"domain":[-99,2206],"nice":false,"zero":false},"axis":{"title":"Kap density [Da/nm²]","values":[0,500,1000,1500,2000],"format":"d"}},
     "y":{"field":"y","type":"quantitative","scale":{"domain":[-2.8,14.9],"nice":false,"zero":false},"axis":{"title":"Δd [nm]","values":[-2,0,2,4,6,8,10,12,14],"labelExpr":"replace(datum.label,'−','-')"}},
     "color":{"field":"s","type":"nominal","scale":{"domain":["cNup153","cNup62","cNup98","cNup214"],"range":["#1E9E1E","#000000","#4D7CFF","#FF1A1A"]},"legend":null}}},
   {"data":{"name":"fitB"},"mark":{"type":"area","color":"#999999","opacity":0.4},
    "encoding":{
     "x":{"field":"x","type":"quantitative","scale":{"domain":[-99,2206],"nice":false,"zero":false},"axis":{"title":"Kap density [Da/nm²]","values":[0,500,1000,1500,2000],"format":"d"}},
     "y":{"field":"lo","type":"quantitative","scale":{"domain":[-2.8,14.9],"nice":false,"zero":false},"axis":{"title":"Δd [nm]","values":[-2,0,2,4,6,8,10,12,14],"labelExpr":"replace(datum.label,'−','-')"}},
     "y2":{"field":"hi"},
     "detail":{"field":"s"}}},
   {"data":{"name":"fitB"},"mark":{"type":"line","strokeWidth":1.6},
    "encoding":{
     "x":{"field":"x","type":"quantitative","scale":{"domain":[-99,2206],"nice":false,"zero":false},"axis":{"title":"Kap density [Da/nm²]","values":[0,500,1000,1500,2000],"format":"d"}},
     "y":{"field":"y","type":"quantitative","scale":{"domain":[-2.8,14.9],"nice":false,"zero":false},"axis":{"title":"Δd [nm]","values":[-2,0,2,4,6,8,10,12,14],"labelExpr":"replace(datum.label,'−','-')"}},
     "stroke":{"field":"s","type":"nominal","scale":{"domain":["cNup153","cNup62","cNup98","cNup214"],"range":["#1E9E1E","#000000","#4D7CFF","#FF1A1A"]},"legend":null}}},
   {"data":{"values":[{}]},"mark":{"type":"rule","strokeDash":[5,4],"color":"black","strokeWidth":1},
    "encoding":{"y":{"datum":-0.25,"type":"quantitative","scale":{"domain":[-2.8,14.9],"nice":false,"zero":false},"axis":{"title":"Δd [nm]","values":[-2,0,2,4,6,8,10,12,14],"labelExpr":"replace(datum.label,'−','-')"}}}}
  ]},
  {"data":{"values":[{}]},"mark":{"type":"point","opacity":0},
   "encoding":{"x":{"datum":1,"type":"quantitative","scale":{"domain":[-0.0757,1.688],"nice":false,"zero":false},"axis":{"orient":"top","title":"Number of CRM1 layers","values":[0,0.5,1,1.5],"format":".1f"}}}}
 ],
 "resolve":{"scale":{"x":"independent"}}
},
{
 "width":441,"height":318,
 "title":{"text":"C","dx":-65,"dy":33},
 "layer":[
  {"layer":[
   {"data":{"name":"ptsC"},"mark":{"type":"point","filled":false,"size":60,"strokeWidth":1.05},
    "encoding":{
     "x":{"field":"x","type":"quantitative","scale":{"domain":[-119,2614],"nice":false,"zero":false},"axis":{"title":"Kap density [Da/nm²]","values":[0,500,1000,1500,2000,2500],"format":"d"}},
     "y":{"field":"y","type":"quantitative","scale":{"domain":[-2.8,14.9],"nice":false,"zero":false},"axis":{"title":"Δd [nm]","values":[-2,0,2,4,6,8,10,12,14],"labelExpr":"replace(datum.label,'−','-')"}},
     "color":{"field":"s","type":"nominal","scale":{"domain":["cNup153","cNup62","cNup98","cNup214"],"range":["#1E9E1E","#000000","#4D7CFF","#FF1A1A"]},"legend":null}}},
   {"data":{"name":"fitC"},"mark":{"type":"area","color":"#999999","opacity":0.4},
    "encoding":{
     "x":{"field":"x","type":"quantitative","scale":{"domain":[-119,2614],"nice":false,"zero":false},"axis":{"title":"Kap density [Da/nm²]","values":[0,500,1000,1500,2000,2500],"format":"d"}},
     "y":{"field":"lo","type":"quantitative","scale":{"domain":[-2.8,14.9],"nice":false,"zero":false},"axis":{"title":"Δd [nm]","values":[-2,0,2,4,6,8,10,12,14],"labelExpr":"replace(datum.label,'−','-')"}},
     "y2":{"field":"hi"},
     "detail":{"field":"s"}}},
   {"data":{"name":"fitC"},"mark":{"type":"line","strokeWidth":1.6},
    "encoding":{
     "x":{"field":"x","type":"quantitative","scale":{"domain":[-119,2614],"nice":false,"zero":false},"axis":{"title":"Kap density [Da/nm²]","values":[0,500,1000,1500,2000,2500],"format":"d"}},
     "y":{"field":"y","type":"quantitative","scale":{"domain":[-2.8,14.9],"nice":false,"zero":false},"axis":{"title":"Δd [nm]","values":[-2,0,2,4,6,8,10,12,14],"labelExpr":"replace(datum.label,'−','-')"}},
     "stroke":{"field":"s","type":"nominal","scale":{"domain":["cNup153","cNup62","cNup98","cNup214"],"range":["#1E9E1E","#000000","#4D7CFF","#FF1A1A"]},"legend":null}}},
   {"data":{"values":[{}]},"mark":{"type":"rule","strokeDash":[5,4],"color":"black","strokeWidth":1},
    "encoding":{"y":{"datum":0,"type":"quantitative","scale":{"domain":[-2.8,14.9],"nice":false,"zero":false},"axis":{"title":"Δd [nm]","values":[-2,0,2,4,6,8,10,12,14],"labelExpr":"replace(datum.label,'−','-')"}}}}
  ]},
  {"data":{"values":[{}]},"mark":{"type":"point","opacity":0},
   "encoding":{"x":{"datum":1,"type":"quantitative","scale":{"domain":[-0.0777,1.706],"nice":false,"zero":false},"axis":{"orient":"top","title":"Number of Imp5 layers","values":[0,0.5,1,1.5],"format":".1f"}}}}
 ],
 "resolve":{"scale":{"x":"independent"}}
}
],
"spacing":24,
"resolve":{"scale":{"color":"independent","stroke":"independent"},"legend":{"color":"independent"}}
}
